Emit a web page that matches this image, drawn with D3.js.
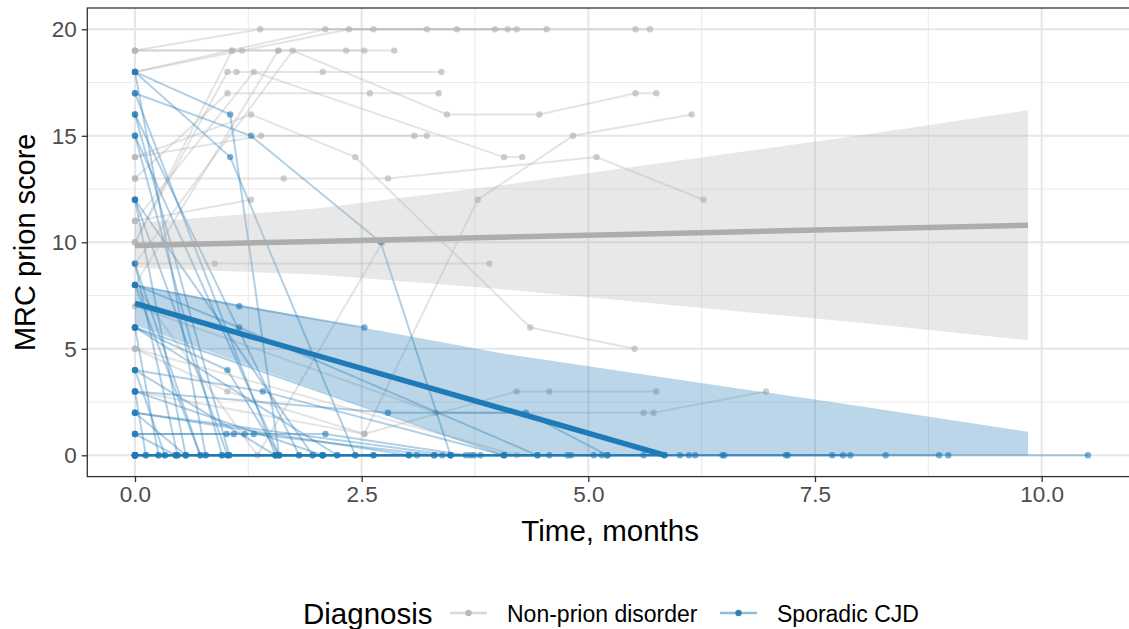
<!DOCTYPE html>
<html>
<head>
<meta charset="utf-8">
<script src="https://cdn.jsdelivr.net/npm/d3@7"></script>
<style>
  html, body { margin: 0; padding: 0; background: #fff; }
  svg { display: block; font-family: "Liberation Sans", Arial, Helvetica, sans-serif; }
</style>
</head>
<body>
<svg id="chart" width="1129" height="629"></svg>
<script>
// ---- Data -----------------------------------------------------------------
// Individual patient trajectories: each patient is a list of [time (months), MRC prion score]
const nonPrionPatients = [
  [[0,19],[1.07,19],[2.33,19],[2.53,19]],
  [[0,19],[1.18,19],[1.58,19],[2.86,19]],
  [[0,19],[1.38,20],[2.63,20],[3.97,20],[4.21,20]],
  [[0,18],[2.10,20],[3.55,20],[5.52,20],[5.68,20]],
  [[0,18],[2.36,20],[3.22,20],[4.11,20],[4.54,20]],
  [[0,10],[1.02,18],[1.12,18],[2.07,18],[3.38,18]],
  [[0,9],[1.74,19],[3.44,16],[4.46,16],[5.52,17],[5.75,17]],
  [[0,11],[1.31,18],[4.07,14],[4.27,14]],
  [[0,13],[1.64,13],[2.79,13],[5.09,14],[6.27,12]],
  [[0,3],[2.53,1],[3.78,12],[4.83,15],[6.14,16]],
  [[0,14],[1.28,16],[2.43,14],[4.36,6],[5.51,5]],
  [[0,13],[1.02,17],[2.59,17],[3.35,17]],
  [[0,14],[1.39,15],[3.08,15],[3.22,15]],
  [[0,9],[0.88,9],[3.91,9]],
  [[0,8],[1.35,0],[2.73,10]],
  [[0,5],[1.02,3],[2.53,1],[4.21,3],[4.57,3],[5.75,3]],
  [[0,7],[3.32,2],[5.61,2],[5.72,2],[6.96,3]],
  [[0,5],[4.21,0]],
  [[0,11],[1.28,12]],
  [[0,10],[1.07,19]],
  [[0,8],[1.58,19]]
];

const cjdPatients = [
  [[0,18],[1.05,16],[1.59,0],[2.63,0]],
  [[0,17],[1.28,15],[2.71,10],[3.48,0],[5.06,0]],
  [[0,18],[1.05,14],[2.43,0],[3.39,0],[4.57,0]],
  [[0,16],[1.81,0],[3.02,0]],
  [[0,15],[0.96,0],[2.07,0],[3.11,0]],
  [[0,12],[1.02,0],[1.96,0]],
  [[0,18],[0.78,0],[1.55,0]],
  [[0,17],[1.55,0]],
  [[0,16],[1.04,0],[2.07,0]],
  [[0,15],[1.59,0],[2.43,0]],
  [[0,12],[0.56,0],[1.02,0]],
  [[0,12],[1.96,0]],
  [[0,9],[0.72,0],[1.81,0]],
  [[0,9],[0.47,0]],
  [[0,8],[1.15,7],[2.53,6]],
  [[0,8],[1.15,6],[4.44,0],[5.61,0]],
  [[0,8],[0.72,0]],
  [[0,6],[2.23,0],[3.30,0]],
  [[0,6],[1.02,4],[1.59,0],[2.07,0]],
  [[0,6],[0.26,0],[0.45,0]],
  [[0,6],[4.07,0],[5.84,0]],
  [[0,4],[1.41,3],[4.07,0],[5.84,0]],
  [[0,4],[0.33,0]],
  [[0,4],[1.55,0]],
  [[0,3],[2.79,2],[4.31,2],[5.21,0],[6.11,0]],
  [[0,3],[0.12,0]],
  [[0,3],[2.07,0]],
  [[0,2],[3.48,0],[4.81,0]],
  [[0,2],[0.56,0]],
  [[0,2],[3.02,0],[4.07,0]],
  [[0,1],[1.01,1],[1.21,1],[2.10,1],[3.65,0]],
  [[0,1],[1.09,1],[1.31,1],[3.30,0]],
  [[0,1],[0.45,0]],
  [[0,0],[0.12,0],[0.45,0],[0.96,0]],
  [[0,0],[0.26,0],[0.56,0],[1.04,0]],
  [[0,0],[0.33,0],[0.78,0]],
  [[0,0],[0.47,0],[2.23,0],[3.81,0],[6.01,0],[7.20,0],[8.87,0]],
  [[0,0],[4.77,0],[6.48,0],[7.69,0],[8.28,0],[8.97,0],[10.51,0]],
  [[0,0],[5.15,0],[6.18,0],[7.18,0],[7.81,0]],
  [[0,0],[6.50,0],[7.89,0]],
  [[0,0],[3.74,0],[5.21,0]],
  [[0,0],[2.63,0],[3.70,0],[4.44,0]],
  [[0,0],[1.55,0],[3.48,0]]
];

// Fitted trend with confidence band, non-prion disorder
const nonPrionFitTimes = [0, 2, 4, 6, 8, 9.85];
const nonPrionFit   = [9.85, 10.04, 10.24, 10.43, 10.62, 10.80];
const nonPrionLower = [8.80, 8.49, 7.82, 7.02, 6.22, 5.40];
const nonPrionUpper = [10.90, 11.59, 12.66, 13.84, 15.02, 16.20];

// Fitted trend with confidence band, sporadic CJD (band bounded below by 0)
const cjdBandTimes = [0, 2, 4.1, 6, 8, 9.85];
const cjdLower = [6.1, 3.1, 0, 0, 0, 0];
const cjdUpper = [8.0, 6.4, 4.75, 3.55, 2.3, 1.1];
const cjdFitTimes = [0, 5.85];
const cjdFit = [7.13, 0];

const xTicks = [0, 2.5, 5, 7.5, 10];
const yTicks = [0, 5, 10, 15, 20];
const xMinor = [1.25, 3.75, 6.25, 8.75];
const yMinor = [2.5, 7.5, 12.5, 17.5];

const groups = ["Non-prion disorder", "Sporadic CJD"];
const groupColour = { "Non-prion disorder": "#b3b3b3", "Sporadic CJD": "#1f78b4" };

// ---- Layout ---------------------------------------------------------------
const svg = d3.select("#chart");
const panel = { left: 87.3, top: 8, right: 1136.5, bottom: 476.6 };

const x = d3.scaleLinear().domain([-0.526, 11.046]).range([panel.left, panel.right]);
const y = d3.scaleLinear().domain([-1, 21]).range([panel.bottom, panel.top]);

svg.append("defs").append("clipPath").attr("id", "panelClip")
  .append("rect")
  .attr("x", panel.left).attr("y", panel.top)
  .attr("width", panel.right - panel.left).attr("height", panel.bottom - panel.top);

// Panel background and grid
svg.append("rect")
  .attr("x", panel.left).attr("y", panel.top)
  .attr("width", panel.right - panel.left).attr("height", panel.bottom - panel.top)
  .attr("fill", "#ffffff");

const grid = svg.append("g").attr("clip-path", "url(#panelClip)");
grid.selectAll("line.ymin").data(yMinor).join("line")
  .attr("x1", panel.left).attr("x2", panel.right)
  .attr("y1", d => y(d)).attr("y2", d => y(d))
  .attr("stroke", "#ebebeb").attr("stroke-width", 1.1);
grid.selectAll("line.xmin").data(xMinor).join("line")
  .attr("y1", panel.top).attr("y2", panel.bottom)
  .attr("x1", d => x(d)).attr("x2", d => x(d))
  .attr("stroke", "#ebebeb").attr("stroke-width", 1.1);
grid.selectAll("line.ymaj").data(yTicks).join("line")
  .attr("x1", panel.left).attr("x2", panel.right)
  .attr("y1", d => y(d)).attr("y2", d => y(d))
  .attr("stroke", "#e6e6e6").attr("stroke-width", 2);
grid.selectAll("line.xmaj").data(xTicks).join("line")
  .attr("y1", panel.top).attr("y2", panel.bottom)
  .attr("x1", d => x(d)).attr("x2", d => x(d))
  .attr("stroke", "#e6e6e6").attr("stroke-width", 2);

const plot = svg.append("g").attr("clip-path", "url(#panelClip)");

// Patient trajectories
const pathLine = d3.line().x(d => x(d[0])).y(d => y(d[1]));
function drawGroup(patients, colour, lineAlpha, pointAlpha) {
  const g = plot.append("g");
  g.selectAll("path").data(patients).join("path")
    .attr("d", pathLine)
    .attr("fill", "none")
    .attr("stroke", colour)
    .attr("stroke-opacity", lineAlpha)
    .attr("stroke-width", 2);
  g.selectAll("circle").data(patients.flat()).join("circle")
    .attr("cx", d => x(d[0])).attr("cy", d => y(d[1]))
    .attr("r", 3.2)
    .attr("fill", colour)
    .attr("fill-opacity", pointAlpha);
}
drawGroup(nonPrionPatients, groupColour["Non-prion disorder"], 0.35, 0.65);
drawGroup(cjdPatients, groupColour["Sporadic CJD"], 0.35, 0.6);

// Confidence bands
const band = d3.area().x(d => x(d.t)).y0(d => y(d.lo)).y1(d => y(d.hi));
const npBand = nonPrionFitTimes.map((t, i) => ({ t, lo: nonPrionLower[i], hi: nonPrionUpper[i] }));
const cjdBand = cjdBandTimes.map((t, i) => ({ t, lo: cjdLower[i], hi: cjdUpper[i] }));
plot.append("path").datum(npBand).attr("d", band)
  .attr("fill", groupColour["Non-prion disorder"]).attr("fill-opacity", 0.3);
plot.append("path").datum(cjdBand).attr("d", band)
  .attr("fill", groupColour["Sporadic CJD"]).attr("fill-opacity", 0.3);

// Fitted trend lines
const fitLine = d3.line().x(d => x(d.t)).y(d => y(d.v));
plot.append("path")
  .datum(nonPrionFitTimes.map((t, i) => ({ t, v: nonPrionFit[i] })))
  .attr("d", fitLine).attr("fill", "none")
  .attr("stroke", "#adadad").attr("stroke-width", 5.5).attr("stroke-linecap", "butt");
plot.append("path")
  .datum(cjdFitTimes.map((t, i) => ({ t, v: cjdFit[i] })))
  .attr("d", fitLine).attr("fill", "none")
  .attr("stroke", "#1f7ab8").attr("stroke-width", 5.5).attr("stroke-linecap", "butt");

// Panel border
svg.append("rect")
  .attr("x", panel.left).attr("y", panel.top)
  .attr("width", panel.right - panel.left).attr("height", panel.bottom - panel.top)
  .attr("fill", "none").attr("stroke", "#333333").attr("stroke-width", 1.3);

// Axes
const xAxis = svg.append("g").attr("transform", `translate(0,${panel.bottom})`)
  .call(d3.axisBottom(x).tickValues(xTicks).tickFormat(d3.format(".1f")).tickSize(5.5).tickPadding(4));
const yAxis = svg.append("g").attr("transform", `translate(${panel.left},0)`)
  .call(d3.axisLeft(y).tickValues(yTicks).tickFormat(d3.format("d")).tickSize(5.5).tickPadding(5));
[xAxis, yAxis].forEach(a => {
  a.select(".domain").remove();
  a.selectAll(".tick line").attr("stroke", "#333333").attr("stroke-width", 1.3);
  a.selectAll(".tick text").attr("fill", "#4d4d4d").style("font-size", "22.5px")
    .style("font-family", "'Liberation Sans', Arial, sans-serif");
});

// Axis titles
svg.append("text")
  .attr("x", (panel.left + 1129) / 2 + 2).attr("y", 541)
  .attr("text-anchor", "middle").attr("fill", "#000")
  .style("font-size", "29.5px").text("Time, months");
svg.append("text")
  .attr("transform", `translate(35,${(panel.top + panel.bottom) / 2}) rotate(-90)`)
  .attr("text-anchor", "middle").attr("fill", "#000")
  .style("font-size", "29px").text("MRC prion score");

// Legend
const legend = svg.append("g");
legend.append("text").attr("x", 303).attr("y", 624)
  .style("font-size", "29.5px").attr("fill", "#000").text("Diagnosis");
const keyX = [450, 720];
const labelX = [507, 777];
groups.forEach((gname, i) => {
  const c = groupColour[gname];
  legend.append("line")
    .attr("x1", keyX[i]).attr("x2", keyX[i] + 37)
    .attr("y1", 613).attr("y2", 613)
    .attr("stroke", c).attr("stroke-opacity", 0.5).attr("stroke-width", 2.5);
  legend.append("circle")
    .attr("cx", keyX[i] + 18.5).attr("cy", 613).attr("r", 3.2)
    .attr("fill", c).attr("fill-opacity", 0.9);
  legend.append("text").attr("x", labelX[i]).attr("y", 622)
    .style("font-size", "23px").attr("fill", "#000").text(gname);
});
</script>
</body>
</html>
